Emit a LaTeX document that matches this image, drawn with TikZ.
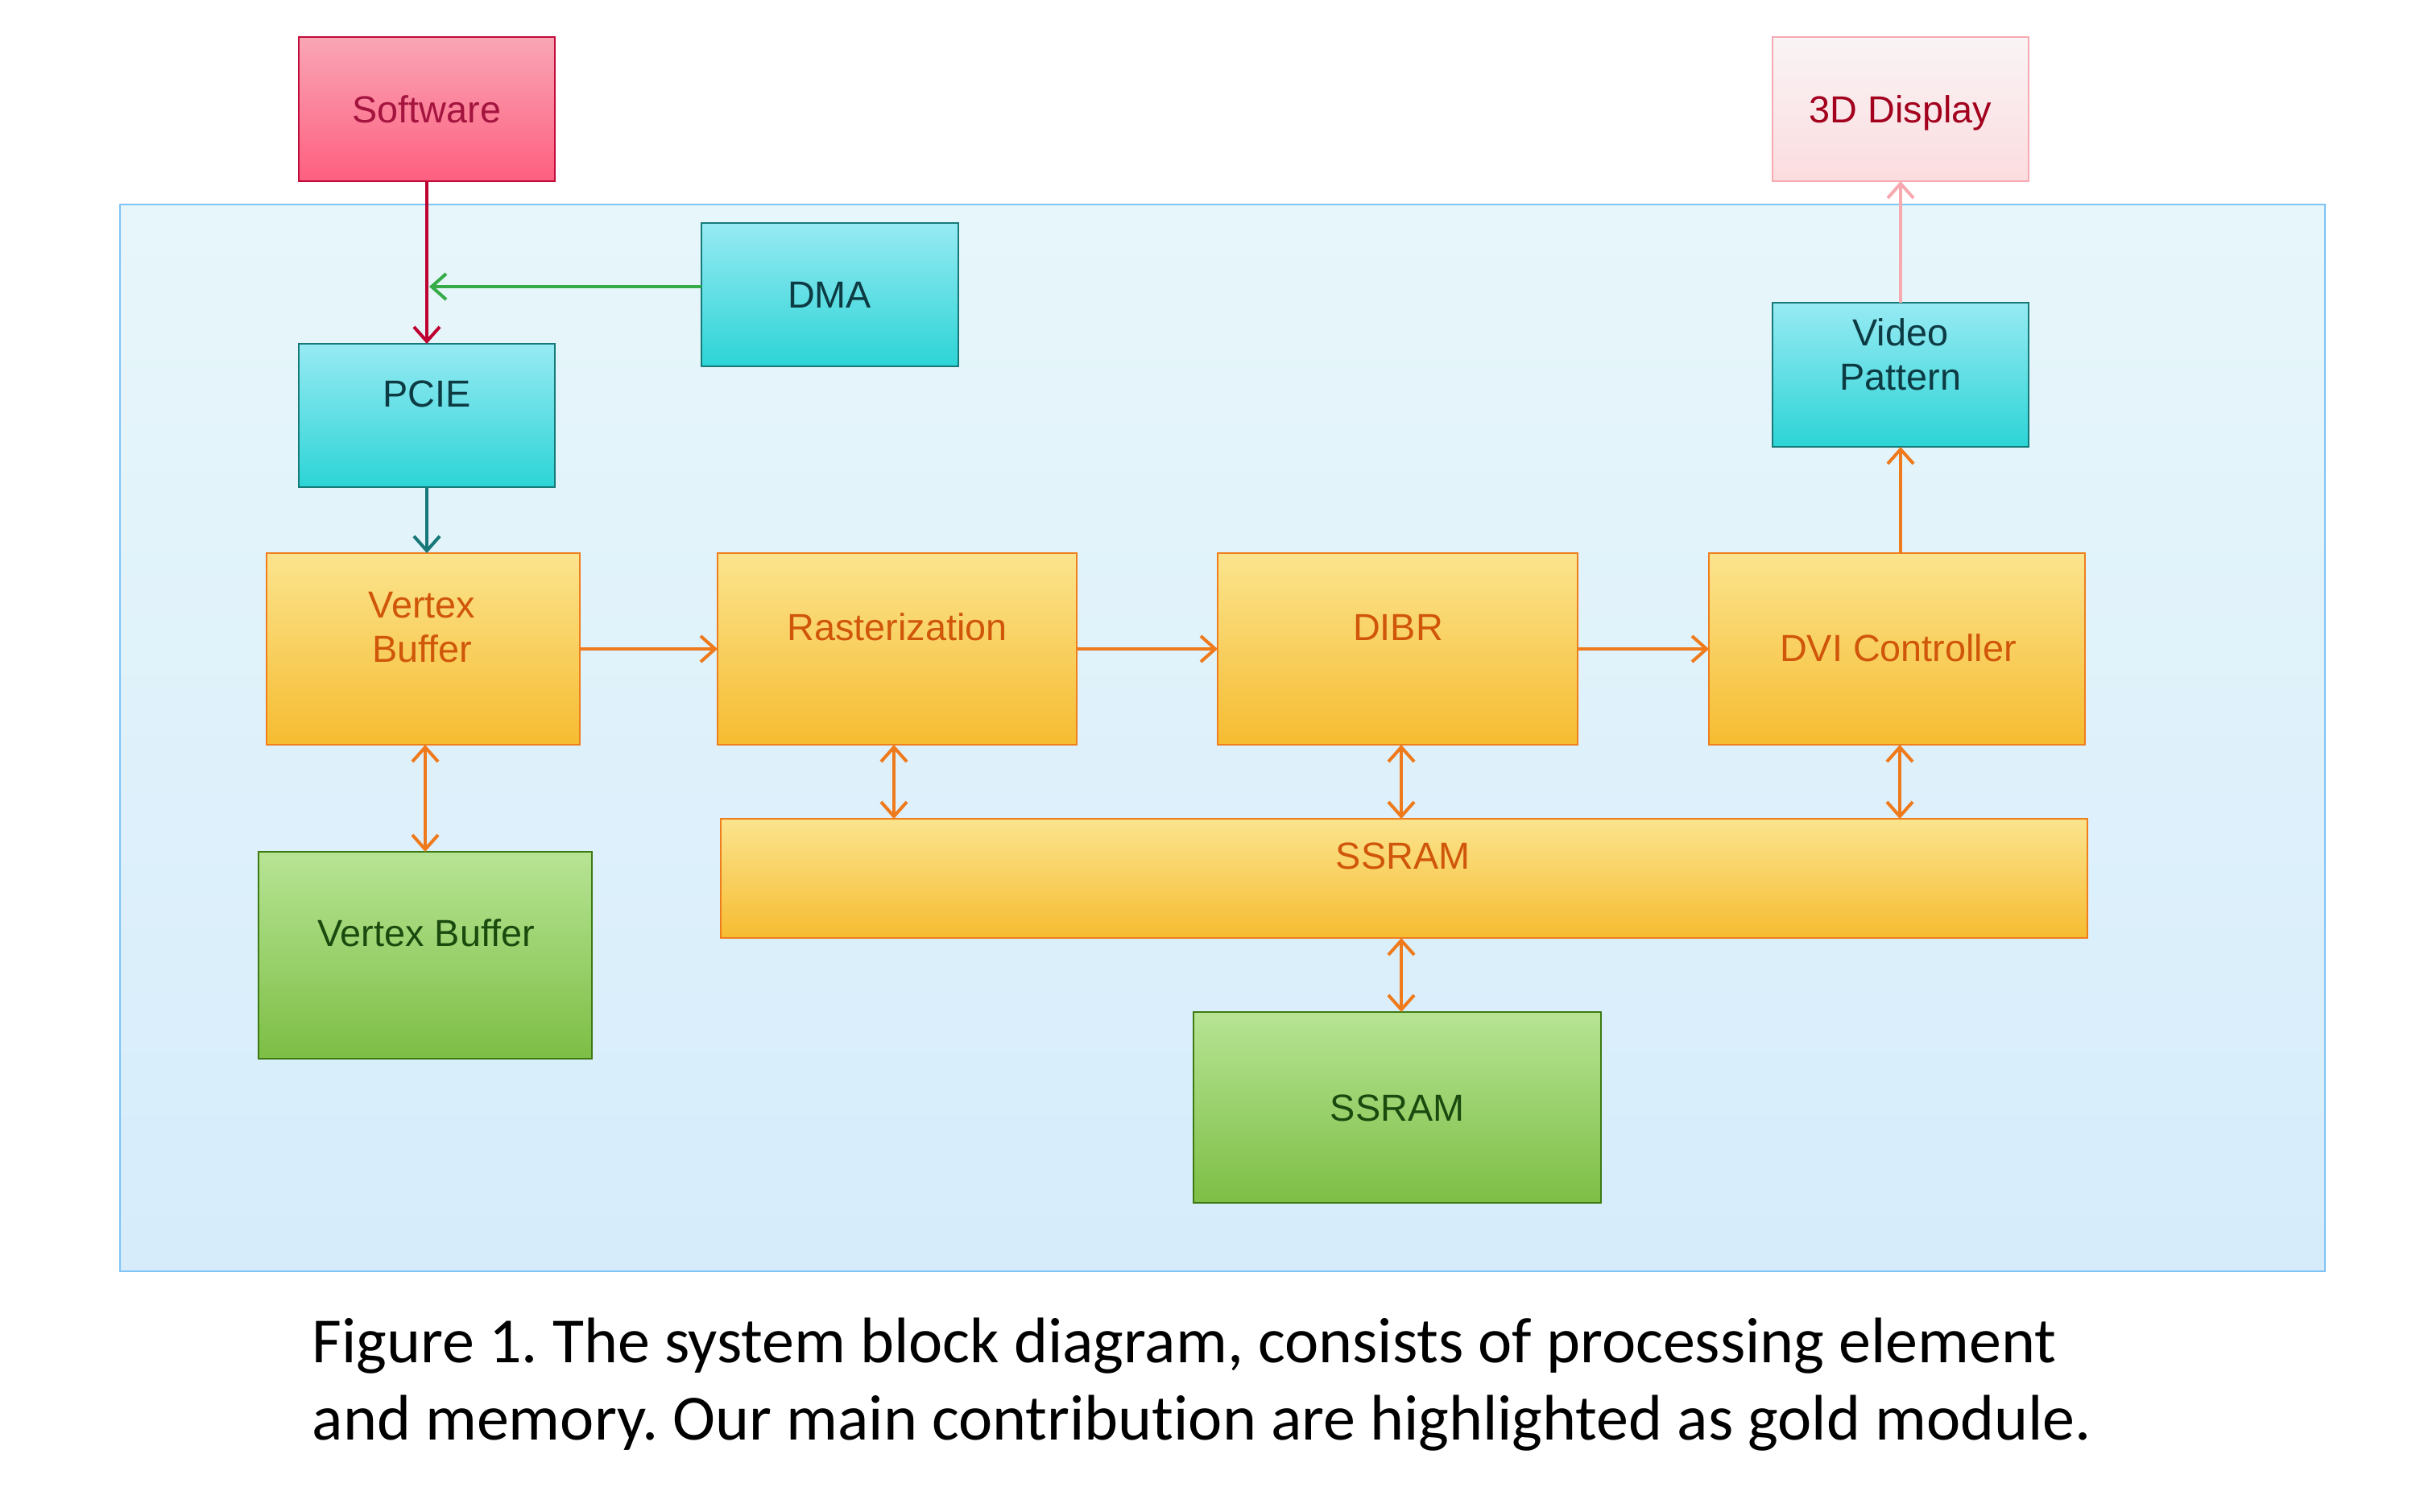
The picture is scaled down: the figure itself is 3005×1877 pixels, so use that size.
\documentclass[tikz,border=0pt]{standalone}
\usepackage{fontspec}
\setmainfont{Liberation Sans}
\newfontfamily\capfont[Ligatures=NoCommon]{Carlito}
\usetikzlibrary{arrows.meta}
\frenchspacing
\definecolor{bgT}{HTML}{E7F6FA}
\definecolor{bgB}{HTML}{D6ECFB}
\definecolor{bgL}{HTML}{7FC4F6}
\definecolor{cyT}{HTML}{97EAF3}
\definecolor{cyB}{HTML}{2CD4D6}
\definecolor{cyL}{HTML}{167A78}
\definecolor{cyX}{HTML}{0D3B44}
\definecolor{goT}{HTML}{FBE48E}
\definecolor{goB}{HTML}{F6BC31}
\definecolor{goL}{HTML}{EF7E1D}
\definecolor{goX}{HTML}{D0560A}
\definecolor{grT}{HTML}{B7E494}
\definecolor{grB}{HTML}{7DBE45}
\definecolor{grL}{HTML}{3D7A12}
\definecolor{grX}{HTML}{1B4A0F}
\definecolor{swT}{HTML}{F9A6B5}
\definecolor{swB}{HTML}{FE5F80}
\definecolor{swL}{HTML}{C10C3A}
\definecolor{swX}{HTML}{A3143F}
\definecolor{dpT}{HTML}{F9F4F5}
\definecolor{dpB}{HTML}{FBDCDF}
\definecolor{dpL}{HTML}{F8AAB2}
\definecolor{dpX}{HTML}{A2001D}
\definecolor{aRed}{HTML}{BE0030}
\definecolor{aGreen}{HTML}{35AC48}
\definecolor{aTeal}{HTML}{167878}
\definecolor{aOrange}{HTML}{EE7A1C}
\definecolor{aPink}{HTML}{F8A9B0}
\begin{document}
\begin{tikzpicture}[x=0.25pt,y=-0.25pt,
  wh/.style 2 args={minimum width=#1*0.25pt,minimum height=#2*0.25pt},
  blk/.style={draw,line width=0.6pt,inner sep=0pt,outer sep=0pt},
  cybox/.style={blk,draw=cyL,top color=cyT,bottom color=cyB},
  gobox/.style={blk,draw=goL,top color=goT,bottom color=goB},
  grbox/.style={blk,draw=grL,top color=grT,bottom color=grB},
  swbox/.style={blk,draw=swL,top color=swT,bottom color=swB},
  dpbox/.style={blk,draw=dpL,top color=dpT,bottom color=dpB},
  bgbox/.style={draw=bgL,line width=0.5pt,top color=bgT,bottom color=bgB,inner sep=0pt,outer sep=0pt},
  lbl/.style={font=\fontsize{11.7}{13.8}\selectfont,align=center,inner sep=0pt,text depth=0pt},
  tip/.tip={Straight Barb[length=4.5pt,width=8pt]},
  arr/.style={line width=1pt,-tip},
  darr/.style={line width=1pt,tip-tip},
  captxt/.style={font=\capfont\fontsize{20}{24}\selectfont,inner sep=0pt,anchor=base west}
]
\useasboundingbox (0,0) rectangle (3005,1877);
\fill[white] (0,0) rectangle (3005,1877);
% background panel
\node[bgbox,wh={2738}{1325}] (bg) at (1518,916.5) {};
% boxes
\node[swbox,wh={318}{179}] (sw) at (530,135.5) {};
\node[dpbox,wh={318}{179}] (d3) at (2360,135.5) {};
\node[cybox,wh={319}{178}] (dma) at (1030.5,366) {};
\node[cybox,wh={318}{178}] (pcie) at (530,516) {};
\node[cybox,wh={318}{179}] (vp) at (2360,465.5) {};
\node[gobox,wh={389}{238}] (vb) at (525.5,806) {};
\node[gobox,wh={446}{238}] (rast) at (1114,806) {};
\node[gobox,wh={447}{238}] (dibr) at (1735.5,806) {};
\node[gobox,wh={467}{238}] (dvi) at (2355.5,806) {};
\node[gobox,wh={1697}{148}] (ss) at (1743.5,1091) {};
\node[grbox,wh={414}{257}] (gvb) at (528,1186.5) {};
\node[grbox,wh={506}{237}] (gss) at (1735,1375.5) {};
% labels
\node[lbl,text=swX] (sw-t) at (530,136) {Software};
\node[lbl,text=dpX] (d3-t) at (2360,136) {3D Display};
\node[lbl,text=cyX] (dma-t) at (1030,366) {DMA};
\node[lbl,text=cyX] (pcie-t) at (530,489) {PCIE};
\node[lbl,text=cyX] (vp-t) at (2360,440) {Video\\Pattern};
\node[lbl,text=goX] (vb-t) at (524,779) {Vertex\\Buffer};
\node[lbl,text=goX] (rast-t) at (1114,779) {Rasterization};
\node[lbl,text=goX] (dibr-t) at (1736,779) {DIBR};
\node[lbl,text=goX] (dvi-t) at (2357,805) {DVI Controller};
\node[lbl,text=goX] (ss-t) at (1742,1063) {SSRAM};
\node[lbl,text=grX] (gvb-t) at (529,1159) {Vertex Buffer};
\node[lbl,text=grX] (gss-t) at (1735,1376) {SSRAM};
% helper coordinates
\coordinate (dmaj) at (533,356);
\coordinate (xr) at (1110,0);
\coordinate (xd) at (1740,0);
\coordinate (xv) at (2359,0);
% connectors
\draw[arr,aRed] (sw.south) -- (pcie.north);
\draw[arr,aGreen] (dma.west |- dmaj) -- (dmaj);
\draw[arr,aTeal] (pcie.south) -- (vb.north -| pcie.south);
\draw[arr,aOrange] (vb.east) -- (rast.west);
\draw[arr,aOrange] (rast.east) -- (dibr.west);
\draw[arr,aOrange] (dibr.east) -- (dvi.west);
\draw[arr,aOrange] (dvi.north -| vp.south) -- (vp.south);
\draw[arr,aPink] (vp.north) -- (d3.south);
\draw[darr,aOrange] (vb.south -| gvb.north) -- (gvb.north);
\draw[darr,aOrange] (rast.south -| xr) -- (ss.north -| xr);
\draw[darr,aOrange] (dibr.south -| xd) -- (ss.north -| xd);
\draw[darr,aOrange] (dvi.south -| xv) -- (ss.north -| xv);
\draw[darr,aOrange] (ss.south -| xd) -- (gss.north -| xd);
% caption
\node[captxt] (cap1) at (387,1692) {Figure 1. The system block diagram, consists of processing element};
\node[captxt] (cap2) at (387,1788) {and memory. Our main contribution are highlighted as gold module.};
\end{tikzpicture}
\end{document}
